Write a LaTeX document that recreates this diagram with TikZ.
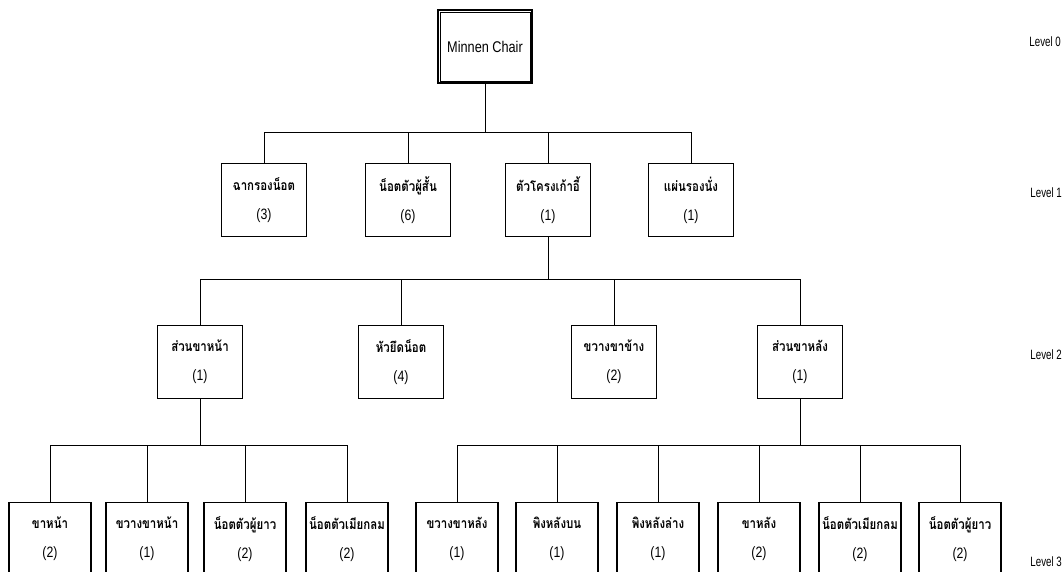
\documentclass[tikz,border=0pt]{standalone}
\usepackage{fontspec}
\setmainfont{Liberation Sans}[FakeStretch=0.82]
\newfontfamily\thaifont[Script=Thai,FakeStretch=0.82]{Loma}
\newfontfamily\lvlfont[FakeStretch=0.72]{Liberation Sans}
\newcommand\boxtxt[2]{{\thaifont\bfseries\fontsize{14}{16}\selectfont #1}\\[12pt]#2}
\begin{document}
\begin{tikzpicture}[x=1pt,y=-1pt,
  box/.style={draw, line width=1.2pt, minimum width=85pt, minimum height=73pt,
    inner sep=0pt, align=center, anchor=north,
    font=\fontsize{15}{17}\selectfont},
  leaf/.style={box, minimum width=82pt},
  link/.style={line width=0.8pt},
  lvl/.style={anchor=east, inner sep=0pt, font=\lvlfont\fontsize{13.5}{15}\selectfont}]
\useasboundingbox (0,0) rectangle (1064,571);
\clip (0,0) rectangle (1064,571);
% level 0
\node[draw, line width=2pt, minimum width=94pt, minimum height=73pt, anchor=north,
  font=\fontsize{15.5}{18}\selectfont] (top) at (485,9) {Minnen Chair};
\draw[line width=0.8pt] ([shift={(3,3)}]top.north west) rectangle ([shift={(-3,-3)}]top.south east);
% level 1
\node[box] (a1) at (264,163) {\boxtxt{ฉากรองน็อต}{(3)}};
\node[box] (a2) at (408,163) {\boxtxt{น็อตตัวผู้สั้น}{(6)}};
\node[box] (a3) at (548,163) {\boxtxt{ตัวโครงเก้าอี้}{(1)}};
\node[box] (a4) at (691,163) {\boxtxt{แผ่นรองนั่ง}{(1)}};
% level 2
\node[box] (b1) at (200,325) {\boxtxt{ส่วนขาหน้า}{(1)}};
\node[box] (b2) at (401,325) {\boxtxt{หัวยึดน็อต}{(4)}};
\node[box] (b3) at (614,325) {\boxtxt{ขวางขาข้าง}{(2)}};
\node[box] (b4) at (800,325) {\boxtxt{ส่วนขาหลัง}{(1)}};
% level 3
\node[leaf] (c1) at (50,502) {\boxtxt{ขาหน้า}{(2)}};
\node[leaf] (c2) at (147,502) {\boxtxt{ขวางขาหน้า}{(1)}};
\node[leaf] (c3) at (245,502) {\boxtxt{น็อตตัวผู้ยาว}{(2)}};
\node[leaf] (c4) at (347,502) {\boxtxt{น็อตตัวเมียกลม}{(2)}};
\node[leaf] (c5) at (457,502) {\boxtxt{ขวางขาหลัง}{(1)}};
\node[leaf] (c6) at (557,502) {\boxtxt{พิงหลังบน}{(1)}};
\node[leaf] (c7) at (658,502) {\boxtxt{พิงหลังล่าง}{(1)}};
\node[leaf] (c8) at (759,502) {\boxtxt{ขาหลัง}{(2)}};
\node[leaf] (c9) at (860,502) {\boxtxt{น็อตตัวเมียกลม}{(2)}};
\node[leaf] (c10) at (960,502) {\boxtxt{น็อตตัวผู้ยาว}{(2)}};
% connectors
\foreach \c in {a1,a2,a3,a4} \draw[link] (top.south) -- ++(0,48) -| (\c.north);
\foreach \c in {b1,b2,b3,b4} \draw[link] (a3.south) -- ++(0,42) -| (\c.north);
\foreach \c in {c1,c2,c3,c4} \draw[link] (b1.south) -- ++(0,46) -| (\c.north);
\foreach \c in {c5,c6,c7,c8,c9,c10} \draw[link] (b4.south) -- ++(0,46) -| (\c.north);
% level labels
\node[lvl] (l0) at (1061,42) {Level 0};
\node[lvl] (l1) at (1062,193) {Level 1};
\node[lvl] (l2) at (1062,355) {Level 2};
\node[lvl] (l3) at (1062,562) {Level 3};
\end{tikzpicture}
\end{document}
